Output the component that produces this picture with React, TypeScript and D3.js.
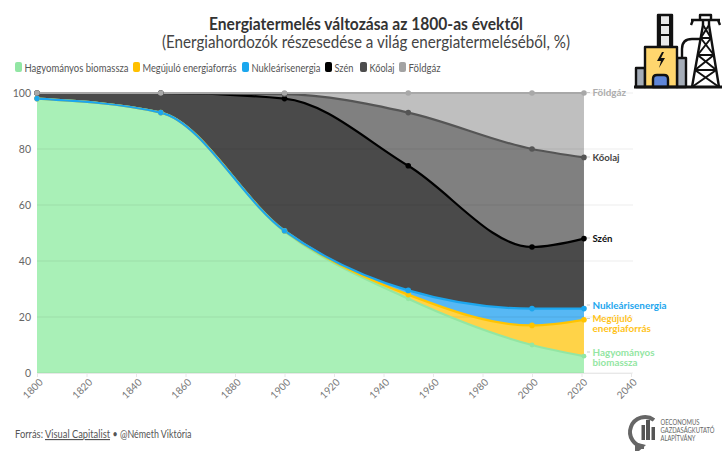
import { useEffect, useRef } from "react";
import * as d3 from "d3";

// cumulative shares, the way the chart stacks them (%)
const years = [1800, 1850, 1900, 1950, 2000, 2021];
const biomassValues = [98, 93, 50.5, 26.5, 10, 6];
const renewableValues = [98, 93, 50.8, 28, 17, 19];
const nuclearValues = [98, 93, 50.8, 29.5, 23, 23];
const coalValues = [100, 100, 98, 74, 45, 48];
const oilValues = [100, 100, 99.6, 93, 80, 77];
const gasValues = [100, 100, 100, 100, 100, 100];

const xTicks = [1800, 1820, 1840, 1860, 1880, 1900, 1920, 1940, 1960, 1980, 2000, 2020, 2040];
const yTicks = [0, 20, 40, 60, 80, 100];

const seriesNames = ["Hagyományos biomassza", "Megújuló energiaforrás", "Nukleárisenergia", "Szén", "Kőolaj", "Földgáz"];
const seriesValues = [biomassValues, renewableValues, nuclearValues, coalValues, oilValues, gasValues];
const areaColors = ["#a9f0b7", "#ffd348", "#57b8f4", "#4a4a4a", "#808080", "#bfbfbf"];
const lineColors = ["#93e6a3", "#ffc400", "#1ca6ee", "#000000", "#555555", "#a8a8a8"];
const legendColors = ["#92e6a4", "#ffc000", "#1ba7ee", "#000000", "#4d4d4d", "#a3a3a3"];
const legendX = [15, 133, 242, 325, 360, 399];
const legendWidths = [104, 94, 69, 19, 25, 32];

const directLabels = [
  { lines: ["Hagyományos", "biomassza"], widths: [62, 45], y: 352, color: "#93e6a3" },
  { lines: ["Megújuló", "energiaforrás"], widths: [40, 58.5], y: 318.5, color: "#ffc31a" },
  { lines: ["Nukleárisenergia"], widths: [74], y: 305, color: "#1ca6ee" },
  { lines: ["Szén"], widths: [20], y: 238, color: "#111111" },
  { lines: ["Kőolaj"], widths: [27], y: 157, color: "#444444" },
  { lines: ["Földgáz"], widths: [33.5], y: 92.5, color: "#adadad" },
];

const font = "'Source Sans Pro', Lato, 'Noto Sans', sans-serif";

function PowerPlantIcon() {
  const legL = (yy: number) => 703 - ((yy - 25) * 11) / 62;
  const legR = (yy: number) => 709 + ((yy - 25) * 10) / 62;
  const levels = [25, 38, 55, 70, 87];
  return (
    <g stroke="#111" strokeWidth={2.4} strokeLinejoin="round" fill="none">
      <rect x={636} y={68} width={9} height={19} fill="#a5adb8" />
      <rect x={677} y={58} width={9} height={29} fill="#a5adb8" />
      <rect x={658} y={15} width={14} height={32} fill="#e9e9e9" />
      <path d="M658 25h14M658 35h14M660 15v32M670 15v32" strokeWidth={2} />
      <rect x={645} y={47} width={32} height={40} fill="#ffd66e" />
      <path d="M653 87v-8q0-4 4-4h7q4 0 4 4v8z" fill="#5f86d8" />
      <path d="M662 52l-5 9h4l-2 7 6-10h-4l3-6z" fill="#111" stroke="none" />
      <path d="M682 58v-9q0-10 10-10h9" />
      <path d="M700 15h11v5h-11zM691 20h29M693 20l-2 5M718 20l2 5M703 20v5M709 20v5" />
      <path d={`M703 25L692 87M709 25L719 87`} />
      {levels.slice(1).map((l, i) => (
        <path
          key={l}
          d={`M${legL(l)} ${l}H${legR(l)}M${legL(levels[i])} ${levels[i]}L${legR(l)} ${l}M${legR(levels[i])} ${levels[i]}L${legL(l)} ${l}`}
          strokeWidth={2}
        />
      ))}
      <path d="M634 87h88" strokeWidth={3} />
    </g>
  );
}

function OeconomusLogo() {
  return (
    <g>
      <path d="M654 420 A15 15 0 1 0 644 447 L637 447 L637 451" fill="none" stroke="#666" strokeWidth={4} />
      <path d="M634 442 L639 451 L646 445z" fill="#666" />
      <rect x={641.5} y={425} width={3.5} height={15} fill="#555" />
      <rect x={646} y={420} width={4} height={20} fill="#555" />
      <rect x={651.5} y={427} width={3.5} height={13} fill="#555" />
      <g fontFamily={font} fontSize={6.6} fill="#666">
        <text x={660.5} y={425} textLength={39} lengthAdjust="spacingAndGlyphs">OECONOMUS</text>
        <text x={660.5} y={433} textLength={54} lengthAdjust="spacingAndGlyphs">GAZDASÁGKUTATÓ</text>
        <text x={660.5} y={441} textLength={35} lengthAdjust="spacingAndGlyphs">ALAPÍTVÁNY</text>
      </g>
    </g>
  );
}

export default function App() {
  const chartRef = useRef<SVGGElement | null>(null);

  useEffect(() => {
    if (!chartRef.current) return;
    const g = d3.select(chartRef.current);
    g.selectAll("*").remove();

    const x = d3.scaleLinear().domain([1800, 2040]).range([37, 631]);
    const y = d3.scaleLinear().domain([0, 100]).range([373, 93]);
    const yearIdx = years.map((_, i) => i);

    const area = (values: number[], lower: number[] | null) =>
      d3
        .area<number>()
        .x((i) => x(years[i]))
        .y0((i) => (lower ? y(lower[i]) : y(0)))
        .y1((i) => y(values[i]))
        .curve(d3.curveMonotoneX)(yearIdx);

    const line = d3
      .line<number>()
      .x((i) => x(years[i]))
      .curve(d3.curveMonotoneX);

    seriesValues.forEach((values, s) => {
      g.append("path")
        .attr("d", area(values, s > 0 ? seriesValues[s - 1] : null))
        .attr("fill", areaColors[s]);
    });

    const yGrid = g.append("g");
    yGrid
      .selectAll("line")
      .data(yTicks)
      .join("line")
      .attr("x1", x(1800))
      .attr("x2", x(2040) + 2)
      .attr("y1", (d) => y(d))
      .attr("y2", (d) => y(d))
      .attr("stroke", "#000")
      .attr("stroke-opacity", 0.07);
    yGrid
      .selectAll("text")
      .data(yTicks)
      .join("text")
      .attr("x", 31)
      .attr("y", (d) => y(d) + 3.6)
      .attr("text-anchor", "end")
      .attr("font-size", 10.5)
      .attr("font-family", font)
      .attr("fill", "#666")
      .text((d) => d);

    const xAxis = g
      .append("g")
      .attr("transform", `translate(0,${y(0)})`)
      .call(
        d3
          .axisBottom(x)
          .tickValues(xTicks)
          .tickFormat((d) => String(d))
          .tickSize(4)
          .tickSizeOuter(0),
      );
    xAxis.select(".domain").attr("stroke", "#e8e8e8");
    xAxis.selectAll("line").attr("stroke", "#e8e8e8");
    xAxis
      .selectAll("text")
      .attr("font-size", 10)
      .attr("font-family", font)
      .attr("fill", "#777")
      .attr("text-anchor", "end")
      .attr("dy", 0)
      .attr("x", 0)
      .attr("y", 0)
      .attr("transform", "translate(6,10) rotate(-45)");

    seriesValues.forEach((values, s) => {
      g.append("path")
        .attr("d", line.y((i) => y(values[i]))(yearIdx))
        .attr("fill", "none")
        .attr("stroke", lineColors[s])
        .attr("stroke-width", 2.2);
    });

    seriesValues.forEach((values, s) => {
      g.append("g")
        .selectAll("circle")
        .data(yearIdx)
        .join("circle")
        .attr("cx", (i) => x(years[i]))
        .attr("cy", (i) => y(values[i]))
        .attr("r", s === 0 ? 2.4 : 2.8)
        .attr("fill", lineColors[s]);
    });

    // direct labels with their little connector ticks
    directLabels.forEach((label) => {
      g.append("line")
        .attr("x1", 587)
        .attr("x2", 590)
        .attr("y1", label.y)
        .attr("y2", label.y)
        .attr("stroke", "#ccc");
      label.lines.forEach((text, i) => {
        g.append("text")
          .attr("x", 592.5)
          .attr("y", label.y + 3.8 + i * 10)
          .attr("font-size", 10)
          .attr("font-weight", 700)
          .attr("font-family", font)
          .attr("fill", label.color)
          .attr("textLength", label.widths[i])
          .attr("lengthAdjust", "spacingAndGlyphs")
          .text(text);
      });
    });
  }, []);

  return (
    <div style={{ position: "absolute", left: 0, top: 0 }}>
      <svg width={727} height={452} style={{ display: "block", background: "#fff" }}>
        <text x={366} y={29.5} textAnchor="middle" fontFamily={font} fontSize={16.5} fontWeight={700} fill="#333" textLength={314} lengthAdjust="spacingAndGlyphs">
          Energiatermelés változása az 1800-as évektől
        </text>
        <text x={366} y={47.5} textAnchor="middle" fontFamily={font} fontSize={16.5} fill="#444" textLength={408} lengthAdjust="spacingAndGlyphs">
          (Energiahordozók részesedése a világ energiatermeléséből, %)
        </text>

        {seriesNames.map((name, i) => (
          <g key={name}>
            <rect x={legendX[i]} y={62} width={7} height={10} rx={2} fill={legendColors[i]} />
            <text x={legendX[i] + 9.5} y={71.5} fontFamily={font} fontSize={11} fill="#555" textLength={legendWidths[i]} lengthAdjust="spacingAndGlyphs">
              {name}
            </text>
          </g>
        ))}

        <g ref={chartRef} />

        <g fontFamily={font} fontSize={11.5} fill="#555">
          <text x={15} y={438} textLength={28} lengthAdjust="spacingAndGlyphs">Forrás:</text>
          <text x={45} y={438} textLength={65} lengthAdjust="spacingAndGlyphs" textDecoration="underline">Visual Capitalist</text>
          <text x={112.5} y={438} textLength={79} lengthAdjust="spacingAndGlyphs">• @Németh Viktória</text>
        </g>

        <PowerPlantIcon />
        <OeconomusLogo />
      </svg>
    </div>
  );
}
